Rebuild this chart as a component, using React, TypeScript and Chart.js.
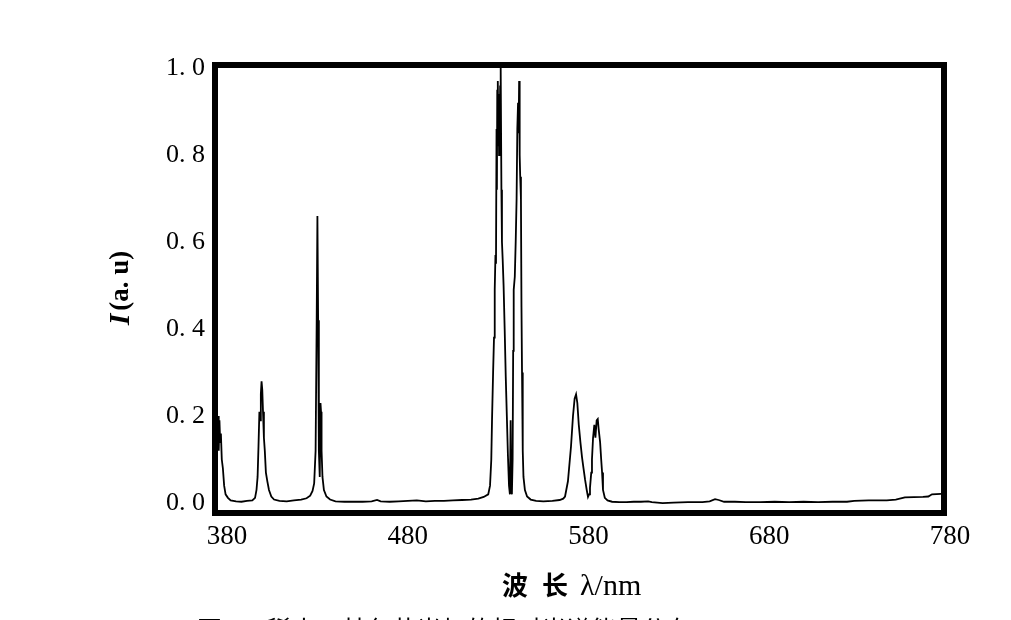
import React, { useEffect, useRef } from "react";
import { Chart, registerables } from "chart.js";

Chart.register(...registerables);

const wavelengths: number[] = [
  380, 380.4, 380.8, 381.2, 381.6, 382.1, 382.7, 383.4, 384.2, 385.5, 387, 390, 393, 396, 399,
  400.5, 401.3, 401.9, 402.4, 402.9, 403.3, 403.7, 404.1, 404.5, 404.9, 405.4, 405.9, 406.5, 407.3, 408.2, 409.5, 411, 414, 418, 422, 426, 429, 431,
  432.3, 433.2, 434, 434.6, 435.0, 435.4, 435.8, 436.3, 436.7, 437.0, 437.3, 437.8, 438.6, 440, 442, 445, 450, 455, 460, 465, 468, 470, 475, 480, 485, 490, 495, 500, 505, 510, 515, 520, 524, 527,
  529.5, 530.5, 531.2, 531.6, 532.2, 532.7, 533.1, 533.5, 533.8, 534.1, 534.3, 534.5, 534.7, 534.9, 535.1, 535.3, 535.5, 535.7, 535.9, 536.1, 536.3, 536.5, 536.8, 537.1, 537.5, 538.0, 538.6, 539.2, 539.8, 540.4, 541.0, 541.5, 541.9, 542.2, 542.6,
  543.0, 543.3, 543.6, 544.2, 544.7, 545.2, 545.6, 546.0, 546.3, 546.6, 546.9, 547.2, 547.6, 547.9, 548.2, 548.6, 549.0, 549.8, 551, 553, 556, 560, 565, 569, 571, 572,
  573.6, 575.3, 576.4, 577.3, 578.1, 578.8, 579.6, 580.5, 581.4, 582.2, 583.1, 584.0, 584.7, 585.3, 585.8, 586.5, 586.9, 587.5, 588.2, 588.8, 589.5, 590.1, 590.6, 591.4, 592.0, 592.5, 593.0, 594, 595.5, 598,
  602, 606, 610, 614, 618, 620, 626, 632, 640, 648, 652, 655, 657, 660, 666, 672, 680, 688, 696, 704, 712, 720, 728, 732, 740, 750, 755, 760, 770, 773, 775, 780,
];

const intensities: number[] = [
  0.2, 0.12, 0.19, 0.14, 0.16, 0.1, 0.08, 0.04, 0.02, 0.012, 0.006, 0.004, 0.003, 0.005, 0.006,
  0.012, 0.03, 0.06, 0.13, 0.21, 0.19, 0.25, 0.28, 0.26, 0.21, 0.15, 0.12, 0.07, 0.05, 0.03, 0.015, 0.008, 0.005, 0.004, 0.006, 0.008, 0.011, 0.017,
  0.028, 0.045, 0.12, 0.42, 0.66, 0.42, 0.12, 0.06, 0.23, 0.21, 0.12, 0.06, 0.03, 0.015, 0.008, 0.004, 0.003, 0.003, 0.003, 0.004, 0.007, 0.004, 0.003, 0.004, 0.005, 0.006, 0.004, 0.005, 0.005, 0.006, 0.007, 0.008, 0.01, 0.014,
  0.02, 0.04, 0.1, 0.19, 0.3, 0.38, 0.49, 0.57, 0.55, 0.86, 0.72, 0.95, 0.82, 0.97, 0.85, 0.92, 0.8, 0.94, 0.84, 0.96, 0.88, 1.0, 0.72, 0.6, 0.56, 0.5, 0.4, 0.29, 0.2, 0.11, 0.04, 0.02, 0.19, 0.03, 0.02,
  0.1, 0.35, 0.49, 0.52, 0.6, 0.7, 0.86, 0.92, 0.85, 0.97, 0.8, 0.75, 0.7, 0.45, 0.3, 0.12, 0.06, 0.03, 0.015, 0.008, 0.005, 0.004, 0.005, 0.007, 0.01, 0.015,
  0.05, 0.13, 0.2, 0.24, 0.25, 0.23, 0.18, 0.14, 0.105, 0.08, 0.053, 0.03, 0.014, 0.02, 0.035, 0.07, 0.1, 0.15, 0.18, 0.15, 0.19, 0.193, 0.17, 0.14, 0.1, 0.07, 0.03, 0.012, 0.006, 0.003,
  0.002, 0.002, 0.003, 0.003, 0.004, 0.002, 0.0, 0.001, 0.002, 0.002, 0.004, 0.009, 0.007, 0.003, 0.003, 0.002, 0.002, 0.003, 0.002, 0.003, 0.002, 0.003, 0.003, 0.005, 0.006, 0.006, 0.008, 0.013, 0.014, 0.015, 0.02, 0.021,
];

const xTickValues: number[] = [380, 480, 580, 680, 780];
const xTickLabels: string[] = ["380", "480", "580", "680", "780"];
const yTickValues: number[] = [0, 0.2, 0.4, 0.6, 0.8, 1.0];
const yTickLabels: string[] = ["0. 0", "0. 2", "0. 4", "0. 6", "0. 8", "1. 0"];

const xTitleParts: string[] = ["波", "长", "λ/nm"];
const yTitleItalic = "I";
const yTitleRest = "(a. u)";
const captionText = "图 1　稀土三基色荧光灯的相对光谱能量分布";

const SERIF = "'Liberation Serif', 'DejaVu Serif', serif";

const decorPlugin = {
  id: "decor",
  afterDraw(chart: any) {
    const ctx = chart.ctx as CanvasRenderingContext2D;
    const a = chart.chartArea;
    ctx.save();
    // thick frame
    ctx.strokeStyle = "#000";
    ctx.lineWidth = 6;
    ctx.strokeRect(a.left - 3, a.top - 3, a.right - a.left + 6, a.bottom - a.top + 6);

    // x title
    ctx.fillStyle = "#000";
    ctx.textAlign = "left";
    ctx.textBaseline = "alphabetic";
    ctx.font = `bold 26px 'Noto Sans CJK SC', ${SERIF}`;
    ctx.fillText(xTitleParts[0], 502, 595);
    ctx.fillText(xTitleParts[1], 542, 595);
    ctx.font = `30px ${SERIF}`;
    ctx.fillText(xTitleParts[2], 580, 595);

    // y title (rotated)
    ctx.save();
    ctx.translate(121, 288);
    ctx.rotate(-Math.PI / 2);
    ctx.font = `italic bold 30px ${SERIF}`;
    const w1 = ctx.measureText(yTitleItalic).width;
    ctx.font = `bold 27px ${SERIF}`;
    const w2 = ctx.measureText(yTitleRest).width;
    const start = -(w1 + w2 + 3) / 2;
    ctx.textAlign = "left";
    ctx.textBaseline = "middle";
    ctx.font = `italic bold 30px ${SERIF}`;
    ctx.fillText(yTitleItalic, start, 0);
    ctx.font = `bold 27px ${SERIF}`;
    ctx.fillText(yTitleRest, start + w1 + 3, 0);
    ctx.restore();

    // caption (cut by page bottom)
    ctx.font = `25px 'Noto Sans CJK SC', ${SERIF}`;
    ctx.textAlign = "left";
    ctx.textBaseline = "top";
    ctx.fillText(captionText, 197, 617);
    ctx.restore();
  },
};

export default function App() {
  const canvasRef = useRef<HTMLCanvasElement | null>(null);

  useEffect(() => {
    if (!canvasRef.current) return;
    const data = wavelengths.map((x, i) => ({ x, y: intensities[i] }));
    const chart = new Chart(canvasRef.current, {
      type: "line",
      data: {
        datasets: [
          {
            data,
            borderColor: "#000",
            borderWidth: 1.8,
            pointRadius: 0,
            tension: 0,
            fill: false,
          },
        ],
      },
      options: {
        animation: false,
        responsive: false,
        devicePixelRatio: 1,
        layout: { padding: { left: 0, right: 70, top: 68, bottom: 0 } },
        plugins: { legend: { display: false }, tooltip: { enabled: false }, title: { display: false } },
        scales: {
          x: {
            type: "linear",
            min: 380,
            max: 780,
            grid: { display: false, drawTicks: false },
            border: { display: false },
            afterFit: (s: any) => {
              s.height = 110;
            },
            afterBuildTicks: (s: any) => {
              s.ticks = xTickValues.map((v) => ({ value: v }));
            },
            ticks: {
              padding: 11,
              labelOffset: 9,
              color: "#000",
              maxRotation: 0,
              autoSkip: false,
              font: { family: SERIF, size: 27 },
              callback: (v: any) => {
                const i = xTickValues.indexOf(Number(v));
                return i >= 0 ? xTickLabels[i] : "";
              },
            },
          },
          y: {
            type: "linear",
            min: -0.016,
            max: 1.0,
            grid: { display: false, drawTicks: false },
            border: { display: false },
            afterFit: (s: any) => {
              s.width = 218;
            },
            afterBuildTicks: (s: any) => {
              s.ticks = yTickValues.map((v) => ({ value: v }));
            },
            ticks: {
              padding: 13,
              color: "#000",
              autoSkip: false,
              font: { family: SERIF, size: 26 },
              callback: (v: any) => {
                const i = yTickValues.findIndex((t) => Math.abs(t - Number(v)) < 1e-6);
                return i >= 0 ? yTickLabels[i] : "";
              },
            },
          },
        },
      },
      plugins: [decorPlugin],
    });
    return () => chart.destroy();
  }, []);

  return (
    <div style={{ position: "fixed", left: 0, top: 0, width: 1011, height: 620, background: "#fff" }}>
      <canvas ref={canvasRef} width={1011} height={620} style={{ display: "block" }} />
    </div>
  );
}
